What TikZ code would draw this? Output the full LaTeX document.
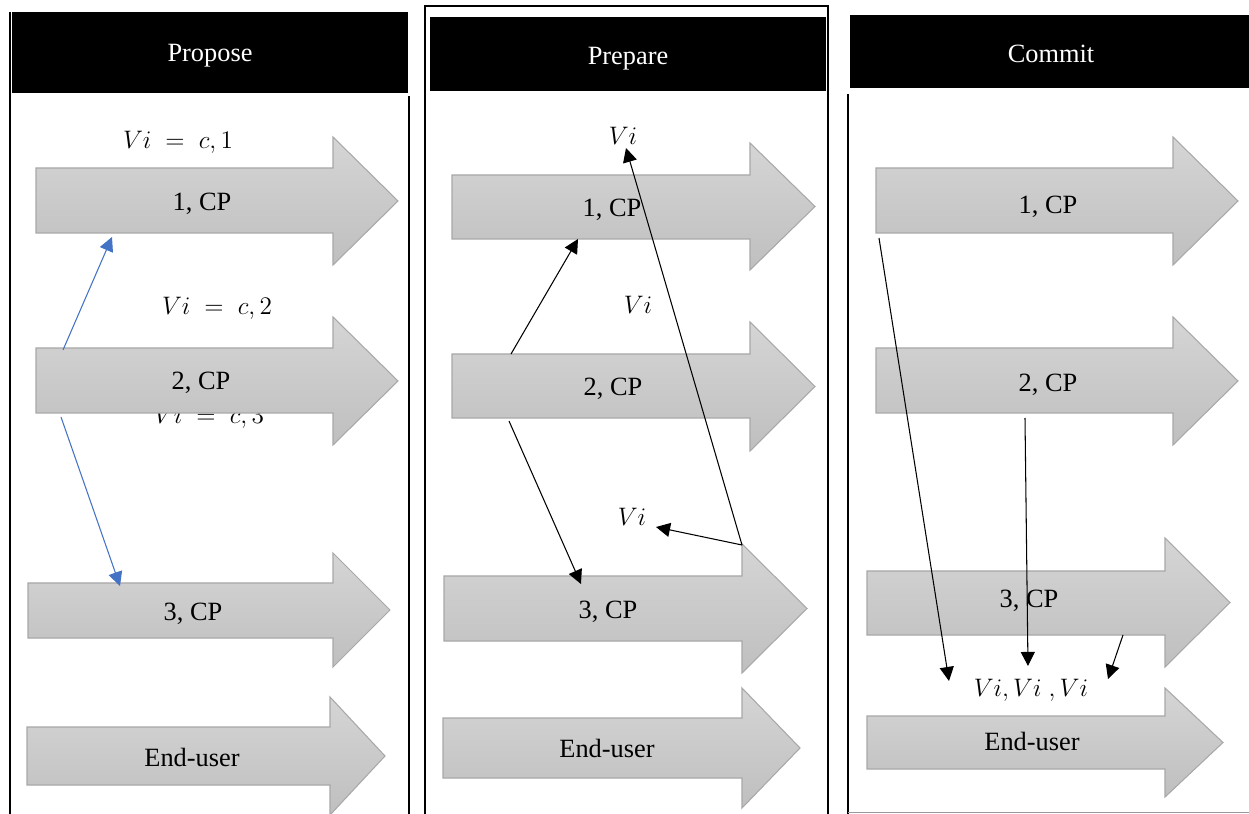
\documentclass[tikz,border=0pt]{standalone}
\usepackage{fontspec}
\setmainfont{Liberation Serif}
\usetikzlibrary{arrows.meta}
\definecolor{arrowtop}{HTML}{D5D5D5}
\definecolor{arrowbot}{HTML}{BFBFBF}
\definecolor{arrowedge}{HTML}{A8A8A8}
\definecolor{linkblue}{HTML}{4472C4}
\definecolor{baseline}{HTML}{9A9A9A}
\tikzset{
  lbl/.style={font=\fontsize{15}{18}\selectfont, inner sep=0pt, text=black,
              text height=9.9pt, text depth=0pt},
  hdr/.style={lbl, text=white},
  frameline/.style={draw=black, line width=1.3pt},
  barrow/.style={top color=arrowtop, bottom color=arrowbot, draw=arrowedge, line width=0.6pt},
  con/.style={draw=black, line width=0.6pt, -{Triangle[length=8pt,width=8pt]}},
  bluecon/.style={con, draw=linkblue, -{Triangle[length=8pt,width=8pt,fill=linkblue]}},
}
% #1 tail x, #2 body top, #3 body bottom, #4 head base x, #5 head top, #6 head bottom, #7 tip x
\newcommand\blockarrow[7]{%
  \path[barrow] (#1,#2) -- (#4,#2) -- (#4,#5) -- (#7,{(#5+#6)/2}) -- (#4,#6) -- (#4,#3) -- (#1,#3) -- cycle;}
\begin{document}
\begin{tikzpicture}[x=0.02cm,y=-0.02cm]
\useasboundingbox (0,0) rectangle (1249,814);
\fill[white] (0,0) rectangle (1249,814);

% ---------- Propose ----------
\draw[frameline] (10,12) -- (10,814);
\draw[frameline] (409,96) -- (409,814);
\fill[black] (12,12) rectangle (408,93);
\node[hdr] (hPropose) at (210,52.5) {Propose};

\node[lbl] (aVa) at (178,139.5) {$Vi\;=\;c,1$};
\node[lbl] (aVb) at (217,306) {$Vi\;=\;c,2$};
\node[lbl] (aVc) at (209,415) {$Vi\;=\;c,3$};

\blockarrow{36}{168}{233}{333}{137}{265}{398}
\node[lbl] (aP1) at (202,202) {1, CP};
\blockarrow{36}{348}{413}{333}{317}{445}{398}
\node[lbl] (aP2) at (201,381) {2, CP};
\blockarrow{28}{583}{638}{333}{553}{667}{390}
\node[lbl] (aP3) at (193,612) {3, CP};
\blockarrow{27}{727}{785}{330}{697}{815}{385}
\node[lbl] (aEU) at (192,758) {End-user};

\coordinate (aS1) at (63,350);
\coordinate (aT1) at (112,237);
\coordinate (aS2) at (61,417);
\coordinate (aT2) at (120,586);
\draw[bluecon] (aS1) -- (aT1);
\draw[bluecon] (aS2) -- (aT2);

% ---------- Prepare ----------
\draw[frameline] (425,6) rectangle (828,816);
\fill[black] (430,17) rectangle (826,91);
\node[hdr] (hPrepare) at (628,56) {Prepare};

\node[lbl] (bVa) at (623,135.5) {$Vi$};
\node[lbl] (bVb) at (638,305) {$Vi$};
\node[lbl] (bVc) at (632,517) {$Vi$};

\blockarrow{452}{175}{239}{750}{143}{270}{815}
\node[lbl] (bP1) at (612,207.5) {1, CP};
\blockarrow{452}{354}{418}{750}{322}{451}{815}
\node[lbl] (bP2) at (613,387) {2, CP};
\blockarrow{444}{576}{641}{742}{544}{673}{807}
\node[lbl] (bP3) at (608,610) {3, CP};
\blockarrow{443}{718}{778}{742}{688}{808}{800}
\node[lbl] (bEU) at (607,749) {End-user};

\coordinate (bS1) at (511,354);
\coordinate (bT1) at (578,239);
\coordinate (bS2) at (509,421);
\coordinate (bT2) at (581,584);
\coordinate (bS3) at (742,545);
\coordinate (bT3) at (626,148);
\coordinate (bT4) at (656,527);
\draw[con] (bS1) -- (bT1);
\draw[con] (bS2) -- (bT2);
\draw[con] (bS3) -- (bT3);
\draw[con] (bS3) -- (bT4);

% ---------- Commit ----------
\draw[frameline] (848,94) -- (848,814);
\draw[draw=baseline, line width=0.8pt] (848,812.5) -- (1249,812.5);
\fill[black] (850,15) rectangle (1249,88);
\node[hdr] (hCommit) at (1051,54) {Commit};

\blockarrow{876}{168}{233}{1173}{137}{265}{1238}
\node[lbl] (cP1) at (1048,205) {1, CP};
\blockarrow{876}{348}{413}{1173}{317}{445}{1238}
\node[lbl] (cP2) at (1048,383) {2, CP};
\blockarrow{867}{571}{635}{1165}{538}{667}{1230}
\node[lbl] (cP3) at (1029,599) {3, CP};
\blockarrow{867}{716}{769}{1165}{688}{797}{1223}
\node[lbl] (cEU) at (1032,742) {End-user};

\node[lbl] (cV) at (1031,688) {$Vi,Vi\;,Vi$};

\coordinate (cS1) at (879,238);
\coordinate (cT1) at (949,681);
\coordinate (cS2) at (1025,418);
\coordinate (cT2) at (1028,666);
\coordinate (cS3) at (1123,635);
\coordinate (cT3) at (1108,679);
\draw[con] (cS1) -- (cT1);
\draw[con] (cS2) -- (cT2);
\draw[con] (cS3) -- (cT3);
\end{tikzpicture}
\end{document}
